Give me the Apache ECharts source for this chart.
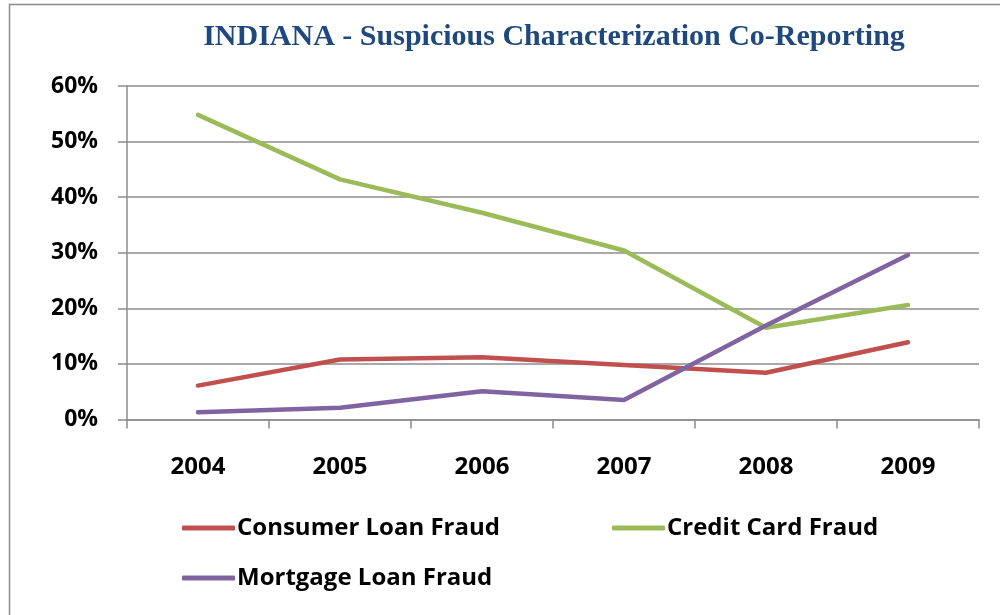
<!DOCTYPE html>
<html>
<head>
<meta charset="utf-8">
<script src="https://cdn.jsdelivr.net/npm/echarts@6/dist/echarts.min.js"></script>
<style>
  html, body { margin: 0; padding: 0; background: #fff; }
  #chart { width: 1000px; height: 615px; }
</style>
</head>
<body>
<div id="chart"></div>
<script>
// chart data (percent)
const years = ["2004", "2005", "2006", "2007", "2008", "2009"];
const consumerLoan = [6.1, 10.8, 11.2, 9.8, 8.4, 13.9];
const creditCard = [54.8, 43.2, 37.2, 30.4, 16.5, 20.6];
const mortgageLoan = [1.3, 2.1, 5.1, 3.5, 16.9, 29.6];
const yTicks = [0, 10, 20, 30, 40, 50, 60];

const names = ["Consumer Loan Fraud", "Credit Card Fraud", "Mortgage Loan Fraud"];
const colors = ["#C0504D", "#9BBB59", "#8064A2"];
const labelFont = "'Open Sans', Lato, sans-serif";

// one legend per item so they sit like the original
const legendBase = (name, left, top) => ({
  data: [name],
  left: left,
  top: top,
  icon: "roundRect",
  itemWidth: 53,
  itemHeight: 5,
  itemGap: 0,
  textStyle: {
    fontFamily: labelFont,
    fontWeight: "bold",
    fontSize: 24,
    color: "#000",
    padding: [0, 0, 0, -3],
  },
});

const chart = echarts.init(document.getElementById("chart"));
const option = {
  animation: false,
  color: colors,
  title: {
    text: "INDIANA - Suspicious Characterization Co-Reporting",
    left: 549,
    textAlign: "center",
    top: 17,
    textStyle: {
      fontFamily: "'Liberation Serif', 'Times New Roman', serif",
      fontWeight: "bold",
      fontSize: 30,
      color: "#1F497D",
    },
  },
  graphic: [
    {
      type: "rect",
      left: 7,
      top: 2,
      shape: { width: 1010, height: 640 },
      style: { fill: "none", stroke: "#8a8a8a", lineWidth: 1.5 },
      silent: true,
    },
  ],
  legend: [
    legendBase(names[0], 177, 511),
    legendBase(names[1], 607, 511),
    legendBase(names[2], 177, 561),
  ],
  grid: {
    left: 127,
    right: 21,
    top: 86,
    bottom: 195.5,
  },
  xAxis: {
    type: "category",
    data: years,
    boundaryGap: true,
    axisLine: { lineStyle: { color: "#8c8c8c", width: 1.5 } },
    axisTick: { show: true, length: 9, lineStyle: { color: "#8c8c8c", width: 1.5 } },
    axisLabel: {
      margin: 36,
      fontFamily: labelFont,
      fontWeight: "bold",
      fontSize: 24,
      color: "#000",
    },
  },
  yAxis: {
    type: "value",
    min: yTicks[0],
    max: yTicks[yTicks.length - 1],
    interval: 10,
    axisLine: { show: true, lineStyle: { color: "#8c8c8c", width: 1.5 } },
    axisTick: { show: true, length: 9, lineStyle: { color: "#8c8c8c", width: 1.5 } },
    splitLine: { lineStyle: { color: "#8c8c8c", width: 1.5 } },
    axisLabel: {
      margin: 29,
      formatter: "{value}%",
      fontFamily: labelFont,
      fontWeight: "bold",
      fontSize: 23,
      color: "#000",
    },
  },
  series: [
    { name: names[0], type: "line", data: consumerLoan },
    { name: names[1], type: "line", data: creditCard },
    { name: names[2], type: "line", data: mortgageLoan },
  ].map((s) => ({
    ...s,
    showSymbol: false,
    symbol: "none",
    lineStyle: { width: 4.5, cap: "round", join: "round" },
  })),
};
chart.setOption(option);
</script>
</body>
</html>
